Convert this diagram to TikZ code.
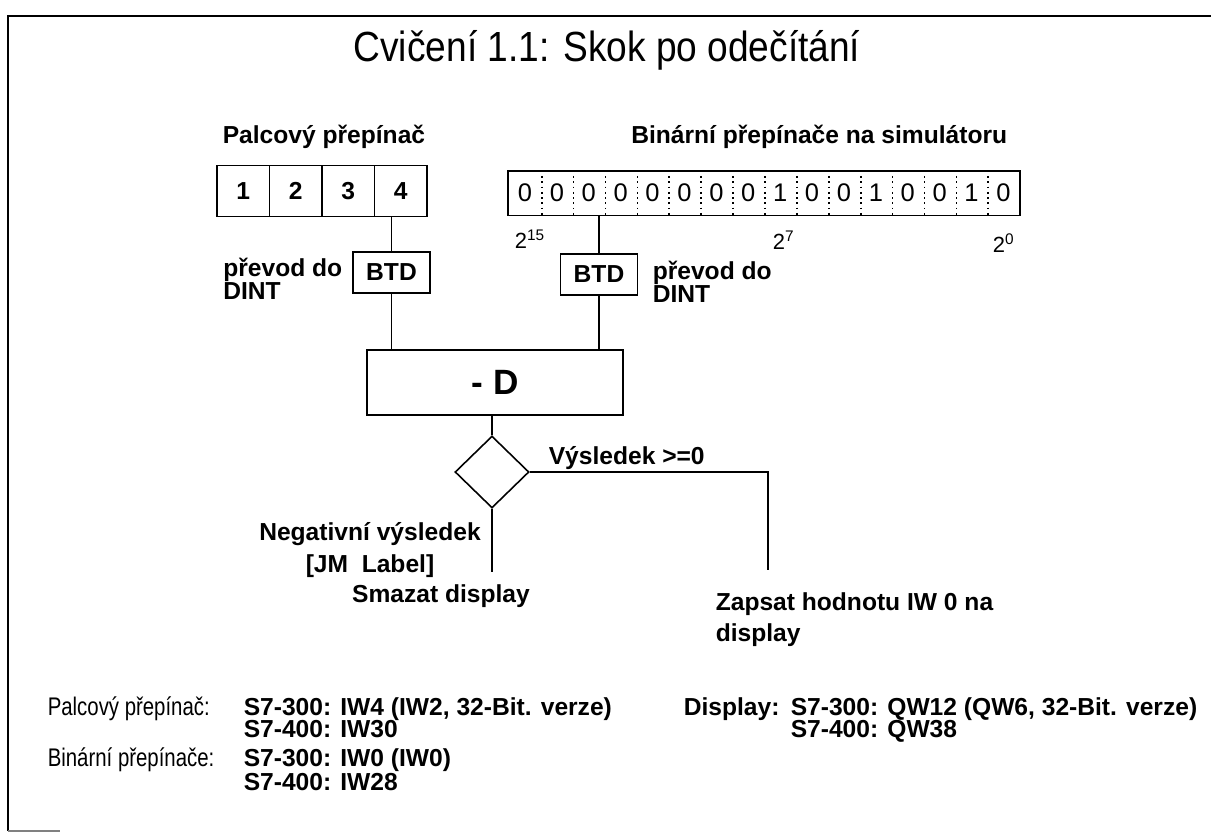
\documentclass[tikz,border=0pt]{standalone}
\usepackage{fontspec}
\setmainfont{Liberation Sans}
\newfontfamily\narrowsans{Liberation Sans}[FakeStretch=0.8]
\newfontfamily\titlesans{Liberation Sans}[FakeStretch=0.88]
\usetikzlibrary{positioning,shapes.geometric}

\begin{document}
\begin{tikzpicture}[
    x=0.02cm, y=-0.02cm,
    line width=0.9pt,
    lbl/.style={font=\fontsize{14}{16.5}\selectfont\bfseries, inner sep=0pt, align=left},
    note/.style={font=\fontsize{14}{13.2}\selectfont\bfseries, inner sep=0pt, align=left},
    thumb/.style={draw, minimum width=1.05cm, minimum height=1.02cm, inner sep=0pt, font=\fontsize{14}{16}\selectfont\bfseries},
    bit/.style={minimum width=0.638cm, minimum height=0.86cm, inner sep=0pt, font=\fontsize{14.5}{16}\selectfont},
    conv/.style={draw, minimum width=1.54cm, minimum height=0.82cm, inner sep=0pt, font=\fontsize{14}{16}\selectfont\bfseries},
    func/.style={draw, minimum width=5.12cm, minimum height=1.3cm, inner sep=0pt, font=\fontsize{20}{22}\selectfont\bfseries},
    decision/.style={draw, diamond, minimum width=1.48cm, minimum height=1.44cm, inner sep=0pt},
    expo/.style={font=\fontsize{12.5}{14}\selectfont, inner sep=0pt, anchor=base west},
    addr/.style={font=\fontsize{14}{15}\selectfont\bfseries, inner sep=0pt, anchor=base west},
    addrhead/.style={addr, font=\fontsize{14.5}{15}\selectfont\narrowsans},
]
\useasboundingbox (0,0) rectangle (1211,833);

% Frame
\draw (1211,16) -- (8,16) -- (8,831);
\draw[gray] (8,831) -- (60,831);

% Title
\node[font=\fontsize{24}{28}\selectfont\titlesans, inner sep=0pt] (title) at (607,50) {Cvičení 1.1: Skok po odečítání};

% Thumbwheel switch
\node[lbl, anchor=base west] (thumblbl) at (222,143) {Palcový přepínač};
\foreach \i in {1,...,4}
  \node[thumb] (t\i) at ({217+52.5*(\i-0.5)},191) {\i};

% Binary switches
\node[lbl, anchor=base east] (binlbl) at (1008,143) {Binární přepínače na simulátoru};
\foreach \b [count=\i] in {0,0,0,0,0,0,0,0,1,0,0,1,0,0,1,0}
  \node[bit] (b\i) at ({509+31.9*(\i-0.5)},193) {\b};
\draw (b1.north west) rectangle (b16.south east);
\foreach \i in {1,...,15}
  \draw[dotted, line width=1pt] (b\i.north east) -- (b\i.south east);
\node[expo] (e15) at (514,248) {2\textsuperscript{15}};
\node[expo] (e7) at (772,249) {2\textsuperscript{7}};
\node[expo] (e0) at (992,252) {2\textsuperscript{0}};

% Conversions
\node[conv] (btd1) at (391.5,272.5) {BTD};
\node[conv] (btd2) at (599,274.5) {BTD};
\node[note, anchor=east] (conv1) at (343,279) {převod do\\DINT};
\node[note, anchor=west] (conv2) at (652,282) {převod do\\DINT};

% Subtraction and jump
\node[func] (sub) at (495,382.5) {- D};
\node[decision] (dec) at (492,472) {};
\coordinate (neg) at (492,572);
\coordinate (pos) at (768,570);

\draw (btd1.north) -- (btd1 |- t4.south);
\draw (btd2.north) -- (btd2 |- b3.south);
\draw (btd1.south) -- (btd1 |- sub.north);
\draw (btd2.south) -- (btd2 |- sub.north);
\draw (dec.north) -- (dec |- sub.south);
\draw (dec.south) -- (neg);
\draw (dec.east) -| (pos);

\node[lbl, anchor=base west] (poslbl) at (548,464) {Výsledek >=0};
\node[lbl, align=center] (neglbl) at (370,550) {Negativní výsledek\\[1.5pt][JM\ \ Label]};
\node[lbl] (clr) at (441,596) {Smazat display};
\node[lbl, anchor=west] (wr) at (715,620) {Zapsat hodnotu IW 0 na\\[1pt]display};

% Addresses
\node[addrhead] (a1) at (47,715) {Palcový přepínač:};
\node[addr] (a1v) at (243,715) {S7-300: IW4 (IW2, 32-Bit. verze)};
\node[addr] (a1w) at (243,737) {S7-400: IW30};
\node[addrhead] (a2) at (47,766) {Binární přepínače:};
\node[addr] (a2v) at (243,766) {S7-300: IW0 (IW0)};
\node[addr] (a2w) at (243,790) {S7-400: IW28};
\node[addr] (a3) at (683,715) {Display:};
\node[addr] (a3v) at (790,715) {S7-300: QW12 (QW6, 32-Bit. verze)};
\node[addr] (a3w) at (790,737) {S7-400: QW38};
\end{tikzpicture}
\end{document}
